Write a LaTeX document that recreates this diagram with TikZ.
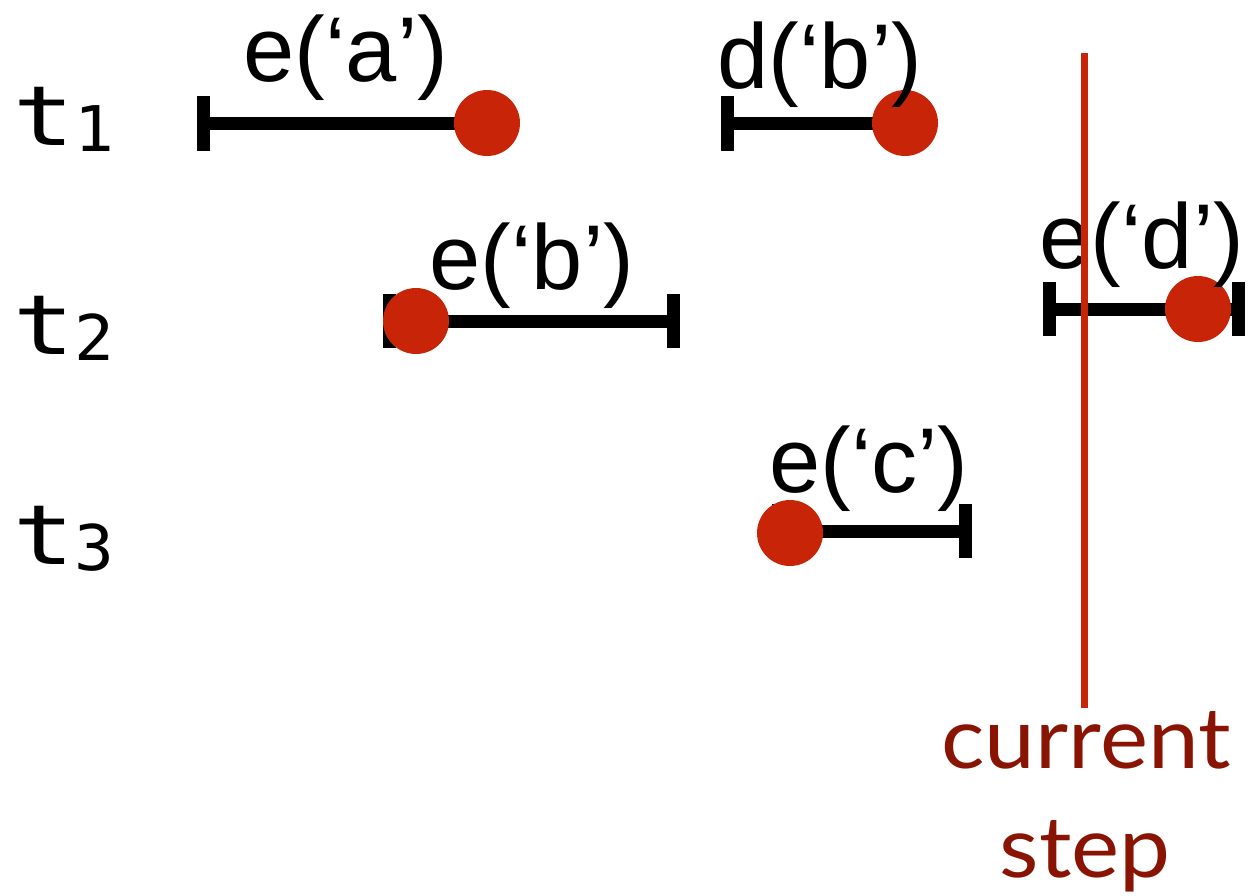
\documentclass[tikz,border=0pt]{standalone}
\usepackage{fontspec}
\setmainfont{Liberation Sans}
\newfontfamily\monofam{DejaVu Sans Mono}
\newfontfamily\gillfam{Lato}
\definecolor{dotred}{RGB}{200,37,8}
\definecolor{stepred}{RGB}{138,20,4}
\tikzset{
  seg/.style={line width=13pt, black},
  tickmark/.style={line width=13pt, black},
  evdot/.style={circle, fill=dotred, inner sep=0pt, minimum size=66pt},
  evlabel/.style={anchor=base, inner sep=0pt, font=\fontsize{92}{92}\selectfont},
  tlabel/.style={anchor=base west, inner sep=0pt, xscale=1.22, font=\monofam\fontsize{83}{83}\selectfont},
  tsub/.style={anchor=base west, inner sep=0pt, xscale=1.05, font=\monofam\fontsize{63}{63}\selectfont},
  steptext/.style={anchor=base, inner sep=0pt, text=stepred, xscale=1.07, font=\gillfam\fontsize{85}{85}\selectfont},
  nowline/.style={line width=7pt, dotred}
}
\begin{document}
\begin{tikzpicture}[x=1pt,y=-1pt]
\useasboundingbox (0,0) rectangle (1252,895);
% row labels
\node[tlabel] (t1) at (13,145) {t};
\node[tsub] (s1) at (74,151) {1};
\node[tlabel] (t2) at (13,354) {t};
\node[tsub] (s2) at (74,360) {2};
\node[tlabel] (t3) at (13,564) {t};
\node[tsub] (s3) at (74,570) {3};
% segment end points
\coordinate (aL) at (203.5,123);
\coordinate (aR) at (487,123);
\coordinate (bL) at (727,123);
\coordinate (bR) at (905,123);
\coordinate (cL) at (389,321);
\coordinate (cR) at (673,321);
\coordinate (dL) at (1049,309);
\coordinate (dR) at (1238,309);
\coordinate (eL) at (778,531);
\coordinate (eR) at (965,531);
% segments
\draw[seg] (aL) -- (aR);
\draw[seg] (bL) -- (bR);
\draw[seg] (cL) -- (cR);
\draw[seg] (dL) -- (dR);
\draw[seg] (eL) -- (eR);
% ticks
\draw[tickmark] ([yshift=-27.5pt]aL) -- ([yshift=27.5pt]aL);
\draw[tickmark] ([yshift=-27.5pt]bL) -- ([yshift=27.5pt]bL);
\draw[tickmark] ([yshift=-27pt]cL) -- ([yshift=27pt]cL);
\draw[tickmark] ([yshift=-27pt]cR) -- ([yshift=27pt]cR);
\draw[tickmark] ([yshift=-27pt]dL) -- ([yshift=27pt]dL);
\draw[tickmark] ([yshift=-27pt]dR) -- ([yshift=27pt]dR);
\draw[tickmark] ([yshift=-27pt]eL) -- ([yshift=27pt]eL);
\draw[tickmark] ([yshift=-27pt]eR) -- ([yshift=27pt]eR);
% dots
\node[evdot] (da) at (487,123) {};
\node[evdot] (db) at (905,123) {};
\node[evdot] (dc) at (416,321) {};
\node[evdot] (dd) at (1198,309) {};
\node[evdot] (de) at (790,533) {};
% labels
\node[evlabel] (la) at (346,81) {e(‘a’)};
\node[evlabel] (lb) at (820,88) {d(‘b’)};
\node[evlabel] (lc) at (532,289) {e(‘b’)};
\node[evlabel] (ld) at (1142,268) {e(‘d’)};
\node[evlabel] (le) at (869,492) {e(‘c’)};
% current step
\coordinate (nowtop) at (1084,53);
\coordinate (nowbot) at (1084,708);
\draw[nowline] (nowtop) -- (nowbot);
\node[steptext] (cur) at (1086,768) {current};
\node[steptext] (stp) at (1085,877) {step};
\end{tikzpicture}
\end{document}
